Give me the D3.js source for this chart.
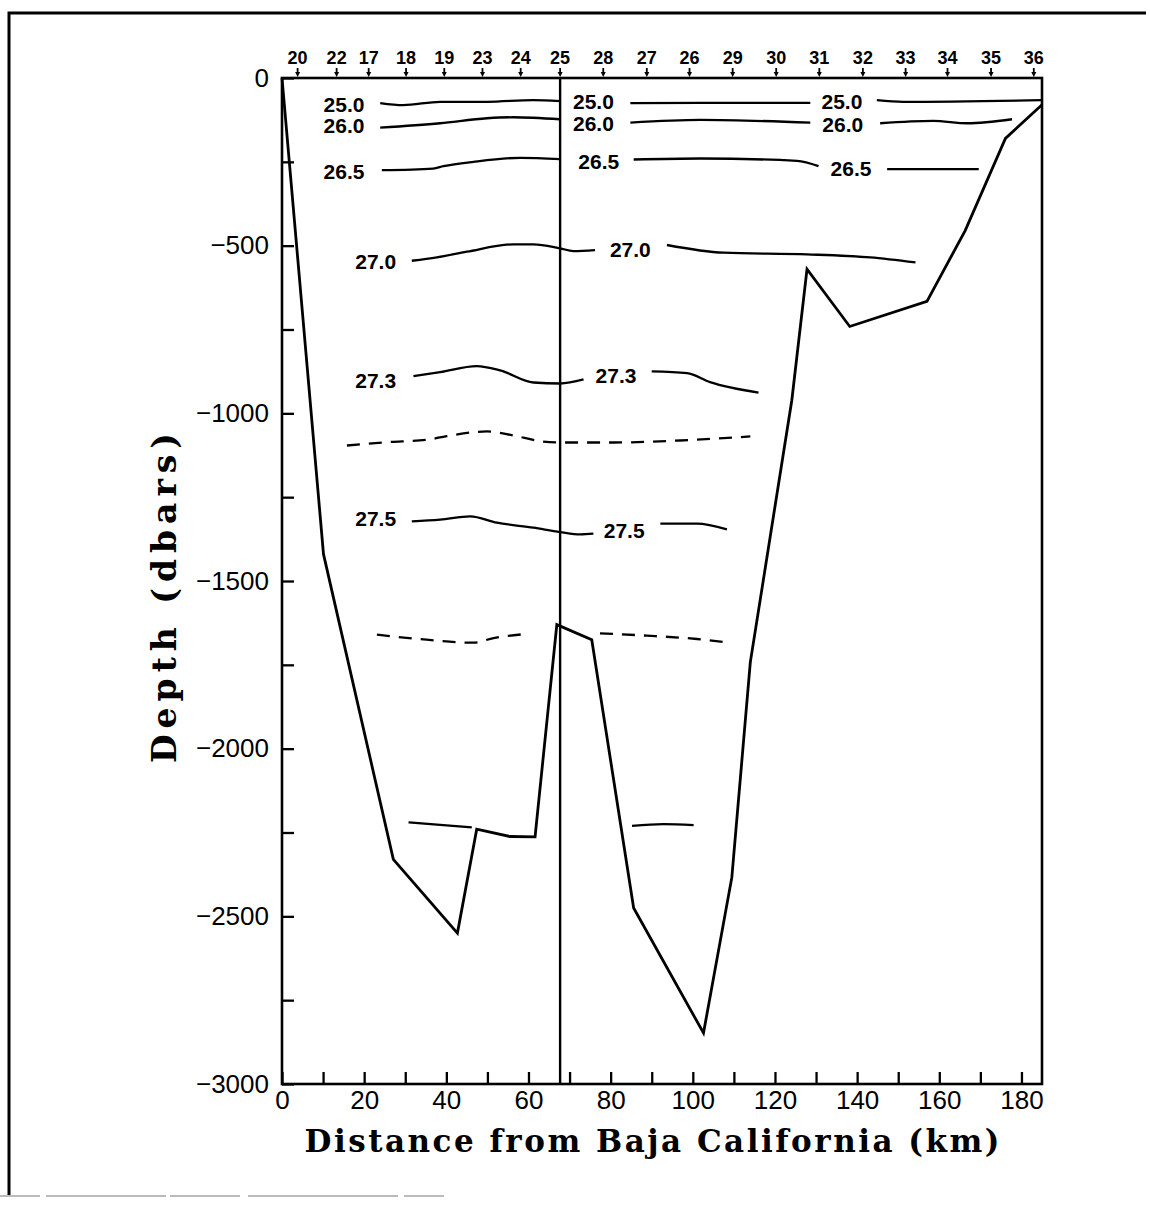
<!DOCTYPE html>
<html>
<head>
<meta charset="utf-8">
<script src="https://cdn.jsdelivr.net/npm/d3@7"></script>
<style>
  body { margin: 0; background: #fff; }
  svg { display: block; }
</style>
</head>
<body>
<svg id="chart" width="1150" height="1211"></svg>
<script>
// Hydrographic stations along the section (order as occupied) and their distance offshore (km)
const stationIds = [20, 22, 17, 18, 19, 23, 24, 25, 28, 27, 26, 29, 30, 31, 32, 33, 34, 35, 36];
const stationKm  = [3.8, 13.3, 21.1, 30.2, 39.5, 48.8, 58.1, 67.7, 78.2, 88.8, 99.2, 109.7, 120.3, 130.8, 141.4, 151.8, 162.0, 172.6, 183.0];

// Bottom profile along the section
const bottomKm    = [0, 10.1, 27.1, 42.7, 47.4, 55.5, 61.6, 66.9, 75.4, 85.6, 102.6, 109.5, 114.0, 124.1, 127.8, 138.2, 157.0, 166.3, 176.1, 185.0];
const bottomDepth = [0, -1420, -2330, -2550, -2240, -2262, -2263, -1630, -1675, -2475, -2848, -2384, -1742, -961, -570, -741, -666, -455, -180, -80];

// Isopycnals (sigma-theta), each a list of segments of [km, dbar] points
const sigma250 = [
  [[23.9, -75], [29.5, -81], [38.5, -71], [49.9, -71], [61.1, -66], [67.7, -69]],
  [[84.8, -75], [101.8, -74], [128.6, -74]],
  [[144.8, -66], [151.2, -71], [185, -66]]
];
const sigma260 = [
  [[23.9, -148], [38.5, -135], [49.9, -120], [56.3, -117], [67.7, -123]],
  [[84.8, -133], [101.8, -125], [128.6, -133]],
  [[145.6, -135], [158.5, -128], [166.8, -135], [177.7, -123]]
];
const sigma265 = [
  [[24.3, -275], [36.8, -270], [39.3, -263], [46.6, -250], [58.0, -238], [67.7, -242]],
  [[85.6, -243], [101.8, -240], [125.4, -247], [130.6, -263]],
  [[147.3, -272], [169.6, -272]]
];
const sigma270 = [
  [[31.6, -545], [37.7, -535], [45.0, -518], [56.3, -496], [61.2, -496], [67.7, -508], [70.9, -516], [76.2, -513]],
  [[93.7, -498], [107.5, -521], [127.8, -526], [143.2, -535], [154.2, -550]]
];
const sigma273 = [
  [[32.0, -889], [38.5, -877], [47.4, -859], [53.1, -872], [61.2, -908], [67.7, -911], [73.4, -899]],
  [[90.0, -875], [98.6, -880], [104.2, -907], [116.0, -938]]
];
const sigma274 = [
  [[15.8, -1096], [25.5, -1086], [35.2, -1079], [40.1, -1068], [49.9, -1054], [56.3, -1066], [62.8, -1083], [67.7, -1087], [80.7, -1087], [96.9, -1081], [114.0, -1069]]
];
const sigma275 = [
  [[31.6, -1322], [38.5, -1317], [45.8, -1307], [52.3, -1326], [61.2, -1341], [67.7, -1354], [72.6, -1361], [75.8, -1359]],
  [[92.1, -1329], [101.0, -1329], [108.3, -1346]]
];
const sigma276 = [
  [[23.1, -1660], [35.2, -1675], [46.6, -1684], [51.5, -1670], [59.6, -1658]],
  [[77.4, -1656], [88.8, -1663], [101.0, -1673], [108.3, -1683]]
];
const sigma277 = [
  [[30.8, -2220], [38.5, -2227], [46.2, -2235]],
  [[85.2, -2230], [92.9, -2225], [100.2, -2228]]
];

// Contour labels: text, km, dbar
const contourLabels = [
  ["25.0", 15.1, -78], ["26.0", 15.1, -142], ["26.5", 15.1, -280],
  ["25.0", 75.8, -69], ["26.0", 75.8, -135], ["26.5", 77.1, -250],
  ["25.0", 136.3, -69], ["26.0", 136.5, -139], ["26.5", 138.5, -270],
  ["27.0", 22.8, -548], ["27.0", 84.8, -511],
  ["27.3", 22.8, -901], ["27.3", 81.3, -887],
  ["27.5", 22.8, -1314], ["27.5", 83.3, -1349]
];

const xTicks = d3.range(0, 181, 10);
const yTicks = d3.range(-3000, 1, 250);

const svg = d3.select("#chart");

const x = d3.scaleLinear().domain([0, 185]).range([282, 1042]);
const y = d3.scaleLinear().domain([-3000, 0]).range([1084, 78]);

// Page border
svg.append("path")
  .attr("d", "M9,1195 L9,13 L1146,13")
  .attr("fill", "none").attr("stroke", "#000").attr("stroke-width", 3);
svg.append("line")
  .attr("x1", 0).attr("x2", 450).attr("y1", 1196).attr("y2", 1196)
  .attr("stroke", "#bbb").attr("stroke-width", 2).attr("stroke-dasharray", "40 6 120 4 70 8 150 6");

// Plot frame
svg.append("rect")
  .attr("x", x(0)).attr("y", y(0))
  .attr("width", x(185) - x(0)).attr("height", y(-3000) - y(0))
  .attr("fill", "none").attr("stroke", "#000").attr("stroke-width", 2.6);

const tickFont = "'Liberation Sans', Arial, sans-serif";

// Bottom axis
const gx = svg.append("g")
  .attr("transform", `translate(0,${y(-3000)})`)
  .call(d3.axisBottom(x).tickValues(xTicks).tickSize(-12).tickSizeOuter(0).tickPadding(7)
    .tickFormat(d => d % 20 === 0 ? d : ""));
gx.select(".domain").remove();
gx.selectAll(".tick line").attr("stroke-width", 2.3);
gx.selectAll("text").attr("font-family", tickFont).attr("font-size", 26).attr("fill", "#000");

// Left axis
const gy = svg.append("g")
  .attr("transform", `translate(${x(0)},0)`)
  .call(d3.axisLeft(y).tickValues(yTicks).tickSize(-12).tickSizeOuter(0).tickPadding(13)
    .tickFormat(d => d % 500 === 0 ? d3.format("d")(d) : ""));
gy.select(".domain").remove();
gy.selectAll(".tick line").attr("stroke-width", 2.3);
gy.selectAll("text").attr("font-family", tickFont).attr("font-size", 26).attr("fill", "#000");

// Station markers along the top
const st = svg.append("g").selectAll("g")
  .data(stationIds.map((id, i) => ({ id, km: stationKm[i] })))
  .join("g")
  .attr("transform", d => `translate(${x(d.km)},0)`);
st.append("text")
  .attr("y", 64)
  .attr("text-anchor", "middle")
  .attr("font-family", tickFont)
  .attr("font-weight", "bold")
  .attr("font-size", 18)
  .text(d => d.id);
st.append("line")
  .attr("y1", 68).attr("y2", 73)
  .attr("stroke", "#000").attr("stroke-width", 1.8);
st.append("path")
  .attr("d", "M-2.5,72 L2.5,72 L0,77 Z")
  .attr("fill", "#000");

// Section line through station 25
svg.append("line")
  .attr("x1", x(stationKm[7])).attr("x2", x(stationKm[7]))
  .attr("y1", y(0)).attr("y2", y(-3000))
  .attr("stroke", "#000").attr("stroke-width", 2.4);

// Isopycnals
const contourLine = d3.line().x(d => x(d[0])).y(d => y(d[1])).curve(d3.curveMonotoneX);
const drawContour = (segments, dashed) => {
  svg.append("g").selectAll("path")
    .data(segments)
    .join("path")
    .attr("d", contourLine)
    .attr("fill", "none")
    .attr("stroke", "#000")
    .attr("stroke-width", 2.3)
    .attr("stroke-dasharray", dashed ? "13 9" : null);
};
[sigma250, sigma260, sigma265, sigma270, sigma273, sigma275, sigma277].forEach(s => drawContour(s, false));
[sigma274, sigma276].forEach(s => drawContour(s, true));

// Bottom profile
const bottomLine = d3.line().x(d => x(d[0])).y(d => y(d[1]));
svg.append("path")
  .datum(bottomKm.map((k, i) => [k, bottomDepth[i]]))
  .attr("d", bottomLine)
  .attr("fill", "none")
  .attr("stroke", "#000")
  .attr("stroke-width", 2.8)
  .attr("stroke-linejoin", "miter");

// Contour labels
svg.append("g").selectAll("text")
  .data(contourLabels)
  .join("text")
  .attr("x", d => x(d[1]))
  .attr("y", d => y(d[2]))
  .attr("dy", "0.36em")
  .attr("text-anchor", "middle")
  .attr("font-family", tickFont)
  .attr("font-weight", "bold")
  .attr("font-size", 21)
  .text(d => d[0]);

// Axis titles
const titleFont = "'DejaVu Serif', serif";
svg.append("text")
  .attr("x", 652).attr("y", 1152)
  .attr("text-anchor", "middle")
  .attr("font-family", titleFont)
  .attr("font-weight", "bold")
  .attr("font-size", 31)
  .attr("textLength", 695)
  .attr("lengthAdjust", "spacing")
  .text("Distance from Baja California (km)");
svg.append("text")
  .attr("transform", "translate(176,598) rotate(-90)")
  .attr("text-anchor", "middle")
  .attr("font-family", titleFont)
  .attr("font-weight", "bold")
  .attr("font-size", 33)
  .attr("textLength", 330)
  .attr("lengthAdjust", "spacing")
  .text("Depth (dbars)");
</script>
</body>
</html>
